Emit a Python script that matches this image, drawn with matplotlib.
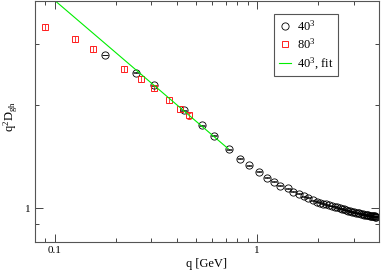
"""Ghost dressing function q^2 D_gh vs q, 40^3 and 80^3 lattices, with power-law fit."""
import matplotlib
matplotlib.use("Agg")
import matplotlib.pyplot as plt
from matplotlib.ticker import FuncFormatter, NullFormatter

plt.rcParams["font.family"] = ["Liberation Serif", "DejaVu Serif"]
plt.rcParams["mathtext.fontset"] = "custom"
plt.rcParams["mathtext.rm"] = "Liberation Serif"
plt.rcParams["mathtext.it"] = "Liberation Serif:italic"

# 40^3 lattice
q40 = [0.178, 0.251, 0.308, 0.434, 0.533, 0.611, 0.724, 0.827, 0.916, 1.018,
       1.12, 1.207, 1.303, 1.416, 1.498, 1.604, 1.698, 1.791, 1.881, 1.977,
       2.052, 2.124, 2.197, 2.274, 2.352, 2.42, 2.49, 2.562, 2.635, 2.696,
       2.758, 2.821, 2.886, 2.953, 3.02, 3.083, 3.143, 3.204, 3.263, 3.323,
       3.38, 3.434, 3.489, 3.541, 3.594, 3.643, 3.689, 3.731, 3.773, 3.808,
       3.843, 3.878]
y40 = [2.79, 2.475, 2.275, 1.925, 1.742, 1.624, 1.485, 1.395, 1.335, 1.276,
       1.226, 1.194, 1.163, 1.143, 1.117, 1.102, 1.085, 1.073, 1.057, 1.045,
       1.039, 1.033, 1.027, 1.0216, 1.016, 1.0114, 1.0067, 1.002, 0.9973, 0.9933,
       0.9894, 0.9854, 0.9815, 0.9782, 0.975, 0.9717, 0.9692, 0.9666, 0.964, 0.9614,
       0.9595, 0.9576, 0.9557, 0.9538, 0.9525, 0.9513, 0.95, 0.9493, 0.948, 0.9475,
       0.947, 0.9462]

# 80^3 lattice
q80 = [0.090, 0.1265, 0.155, 0.219, 0.267, 0.308, 0.366, 0.415, 0.463]
y80 = [3.37, 3.105, 2.904, 2.543, 2.378, 2.239, 2.068, 1.947, 1.861]

# 40^3 fit (power law, straight in log-log)
fit_q = [0.1, 0.72]
fit_y = [4.02, 1.49]

fig = plt.figure(figsize=(3.82, 2.71), dpi=100)
ax = fig.add_axes([0.0916, 0.108, 0.9005, 0.888])

ax.errorbar(q40, y40, yerr=[v * 0.003 for v in y40], fmt="none", ecolor="k",
            elinewidth=0.5, capsize=2.5, capthick=0.5)
ax.errorbar(q80, y80, yerr=[v * 0.02 for v in y80], fmt="none", ecolor="#ff2020",
            elinewidth=0.6, capsize=1.6, capthick=0.6)
ax.plot(q40, y40, "o", ms=5.2, mfc="none", mec="k", mew=0.6, label=r"40$^3$")
ax.plot(q80, y80, "s", ms=4.5, mfc="none", mec="#ff2020", mew=0.7, label=r"80$^3$")
ax.plot(fit_q, fit_y, color="#00ee00", lw=0.8, label=r"40$^3$, fit")

ax.set_xscale("log")
ax.set_yscale("log")
ax.set_xlim(0.08, 4.0)
ax.set_ylim(0.8, 4.0)

fmt = FuncFormatter(lambda v, _: f"{v:g}")
for axis in (ax.xaxis, ax.yaxis):
    axis.set_major_formatter(fmt)
    axis.set_minor_formatter(NullFormatter())
ax.tick_params(which="both", direction="in", top=True, right=True,
               labelsize=8, width=0.7, colors="#444444", labelcolor="k")
ax.tick_params(which="major", length=5.5, pad=3)
ax.tick_params(which="minor", length=3.2)
for s in ax.spines.values():
    s.set_color("#555555")
    s.set_linewidth(0.8)

ax.set_xlabel("q [GeV]", fontsize=9)
ax.xaxis.set_label_coords(0.5, -0.068)
ax.set_ylabel(r"q$^2$D$_{\mathrm{gh}}$", fontsize=9)
ax.yaxis.set_label_coords(-0.045, 0.52)

leg = ax.legend(loc="upper right", bbox_to_anchor=(0.893, 0.96), fontsize=9,
                fancybox=False, framealpha=1, edgecolor="#555555",
                handlelength=1.0, handletextpad=0.5, labelspacing=0.3,
                borderpad=0.35, borderaxespad=0.3)
leg.get_frame().set_linewidth(0.8)

fig.savefig("out.png", dpi=100, facecolor="white")
